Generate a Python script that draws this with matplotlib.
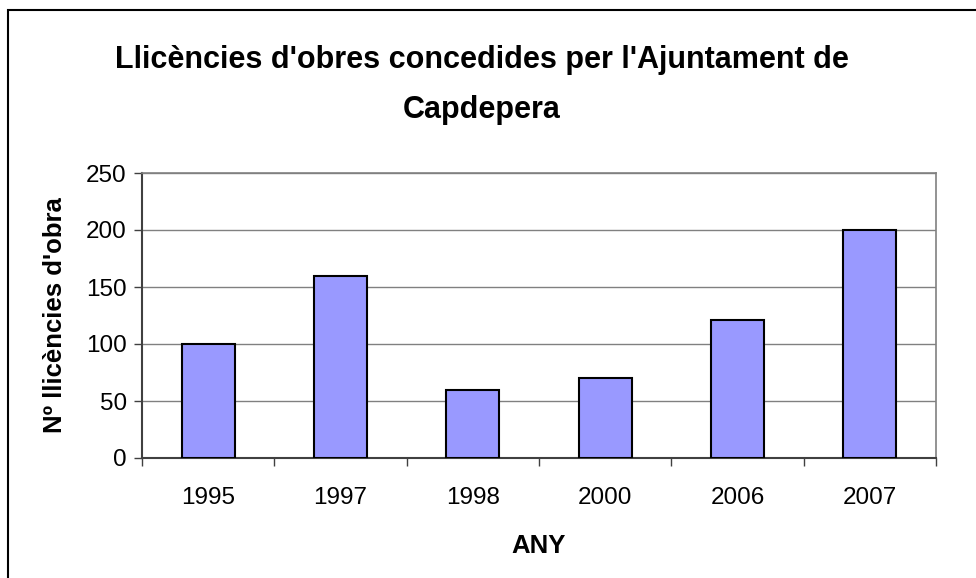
import matplotlib.pyplot as plt
from matplotlib.patches import Rectangle

# dades
anys = ["1995", "1997", "1998", "2000", "2006", "2007"]
llicencies = [100, 160, 60, 70, 121, 200]

plt.rcParams['font.family'] = ['Liberation Sans', 'DejaVu Sans']

fig = plt.figure(figsize=(9.76, 5.78), dpi=100)
ax = fig.add_axes([142/976, 1-458/578, (936-142)/976, (458-173)/578])

x = list(range(len(anys)))
ax.bar(x, llicencies, width=0.4, color="#9999FF", edgecolor="black", linewidth=1.5, zorder=3)

ax.set_xlim(-0.5, len(anys)-0.5)
ax.set_ylim(0, 250)
ax.set_yticks(range(0, 251, 50))
ax.set_xticks(x)
ax.set_xticklabels(anys)
ax.set_xticks([i-0.5 for i in range(len(anys)+1)], minor=True)
ax.tick_params(axis='x', which='major', length=0, pad=21, labelsize=17.5)
ax.tick_params(axis='x', which='minor', length=6, width=1, color="#404040", direction='out')
ax.tick_params(axis='y', length=6, width=1, color="#404040", direction='out', labelsize=17.5, pad=5)

ax.yaxis.grid(True, color="#808080", linewidth=1, zorder=0)
for s in ["top", "right"]:
    ax.spines[s].set_color("#808080")
    ax.spines[s].set_linewidth(1.2)
for s in ["left", "bottom"]:
    ax.spines[s].set_color("#404040")
    ax.spines[s].set_linewidth(1.5)

ax.set_xlabel("ANY", fontsize=18.5, fontweight='bold', labelpad=18)
ax.set_ylabel("Nº llicències d'obra", fontsize=18.5, fontweight='bold', labelpad=14)

fig.text(0.494, 0.853, "Llicències d'obres concedides per l'Ajuntament de\nCapdepera",
         ha='center', va='center', fontsize=22, fontweight='bold', linespacing=1.85)

# marc del grafic
fig.patches.append(Rectangle((7.5/976, -0.1), 1.2, 1.1 - 10/578, transform=fig.transFigure,
                             fill=False, edgecolor="black", linewidth=1.5))

fig.savefig("out.png", dpi=100)
